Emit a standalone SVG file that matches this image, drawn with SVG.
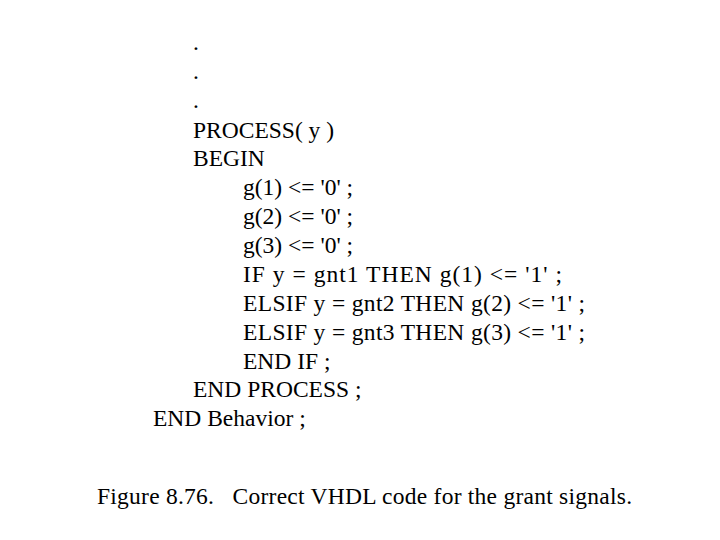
<svg xmlns="http://www.w3.org/2000/svg" width="720" height="540" viewBox="0 0 720 540">
<style>text{font-family:"Liberation Serif","Times New Roman",serif;font-size:23.5px;fill:#000;white-space:pre}</style>
<rect width="720" height="540" fill="#fff"/>
<g id="code">
<text x="193" y="50">.</text>
<text x="193" y="79">.</text>
<text x="193" y="108">.</text>
<text x="193" y="138">PROCESS( y )</text>
<text x="193" y="166">BEGIN</text>
<text x="243" y="195">g(1) &lt;= '0' ;</text>
<text x="243" y="224">g(2) &lt;= '0' ;</text>
<text x="243" y="253">g(3) &lt;= '0' ;</text>
<text x="243" y="282" textLength="319" lengthAdjust="spacing">IF y = gnt1 THEN g(1) &lt;= '1' ;</text>
<text x="243" y="311" textLength="342" lengthAdjust="spacing">ELSIF y = gnt2 THEN g(2) &lt;= '1' ;</text>
<text x="243" y="340" textLength="342" lengthAdjust="spacing">ELSIF y = gnt3 THEN g(3) &lt;= '1' ;</text>
<text x="243" y="369">END IF ;</text>
<text x="193" y="397">END PROCESS ;</text>
<text x="153" y="426">END Behavior ;</text>
</g>
<g id="caption"><text x="97" y="504" textLength="535" lengthAdjust="spacing">Figure 8.76.   Correct VHDL code for the grant signals.</text></g>
</svg>
